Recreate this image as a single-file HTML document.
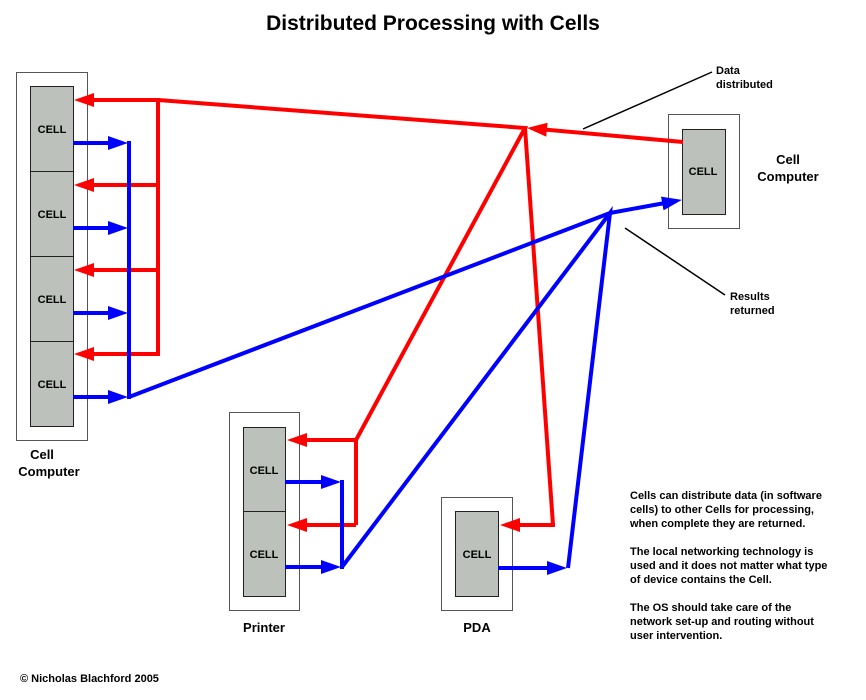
<!DOCTYPE html>
<html><head><style>
body{margin:0;background:#fff}
svg text{font-family:"Liberation Sans",Arial,sans-serif;font-weight:bold}
</style></head><body>
<svg width="866" height="695" viewBox="0 0 866 695" xmlns="http://www.w3.org/2000/svg">
<defs>
<marker id="r" markerUnits="userSpaceOnUse" markerWidth="20" markerHeight="14" viewBox="0 0 20 14" refX="14" refY="7" orient="auto"><path d="M0,0 L20,7 L0,14Z" fill="#f00"/></marker>
<marker id="b" markerUnits="userSpaceOnUse" markerWidth="20" markerHeight="14" viewBox="0 0 20 14" refX="14" refY="7" orient="auto"><path d="M0,0 L20,7 L0,14Z" fill="#00f"/></marker>
</defs>
<text x="433" y="30" text-anchor="middle" font-size="21">Distributed Processing with Cells</text>

<rect x="16.5" y="72.5" width="71" height="368" fill="#fff" stroke="#555"/>
<rect x="30.5" y="86.5" width="43" height="340" fill="#bcc2bb" stroke="#222"/>
<g stroke="#222"><line x1="30" y1="171.5" x2="74" y2="171.5"/><line x1="30" y1="256.5" x2="74" y2="256.5"/><line x1="30" y1="341.5" x2="74" y2="341.5"/></g>
<g font-size="11" text-anchor="middle"><text x="52" y="133">CELL</text><text x="52" y="218">CELL</text><text x="52" y="303">CELL</text><text x="52" y="388">CELL</text></g>
<text x="42" y="459" font-size="13" text-anchor="middle">Cell</text>
<text x="49" y="476" font-size="13" text-anchor="middle">Computer</text>

<rect x="668.5" y="114.5" width="71" height="114" fill="#fff" stroke="#555"/>
<rect x="682.5" y="129.5" width="43" height="85" fill="#bcc2bb" stroke="#222"/>
<text x="703" y="175" font-size="11" text-anchor="middle">CELL</text>
<text x="788" y="164" font-size="13" text-anchor="middle">Cell</text>
<text x="788" y="181" font-size="13" text-anchor="middle">Computer</text>

<rect x="229.5" y="412.5" width="70" height="198" fill="#fff" stroke="#555"/>
<rect x="243.5" y="427.5" width="42" height="169" fill="#bcc2bb" stroke="#222"/>
<line x1="243" y1="511.5" x2="286" y2="511.5" stroke="#222"/>
<g font-size="11" text-anchor="middle"><text x="264" y="474">CELL</text><text x="264" y="558">CELL</text></g>
<text x="264" y="632" font-size="13" text-anchor="middle">Printer</text>

<rect x="441.5" y="497.5" width="71" height="113" fill="#fff" stroke="#555"/>
<rect x="455.5" y="511.5" width="43" height="85" fill="#bcc2bb" stroke="#222"/>
<text x="477" y="558" font-size="11" text-anchor="middle">CELL</text>
<text x="477" y="632" font-size="13" text-anchor="middle">PDA</text>

<g stroke="#f00" stroke-width="4" fill="none">
<line x1="683" y1="142" x2="533" y2="128.5" marker-end="url(#r)"/>
<polyline points="158,100 525,128 356,440 356,525"/>
<polyline points="525,128 553,525"/>
<line x1="158" y1="98" x2="158" y2="356"/>
<line x1="158" y1="100" x2="80" y2="100" marker-end="url(#r)"/>
<line x1="158" y1="185" x2="80" y2="185" marker-end="url(#r)"/>
<line x1="158" y1="270" x2="80" y2="270" marker-end="url(#r)"/>
<line x1="158" y1="354" x2="80" y2="354" marker-end="url(#r)"/>
<line x1="356" y1="440" x2="293" y2="440" marker-end="url(#r)"/>
<line x1="356" y1="525" x2="293" y2="525" marker-end="url(#r)"/>
<line x1="555" y1="525" x2="506" y2="525" marker-end="url(#r)"/>
</g>

<g stroke="#00f" stroke-width="4" fill="none">
<line x1="73" y1="143" x2="122" y2="143" marker-end="url(#b)"/>
<line x1="73" y1="228" x2="122" y2="228" marker-end="url(#b)"/>
<line x1="73" y1="313" x2="122" y2="313" marker-end="url(#b)"/>
<line x1="73" y1="397" x2="122" y2="397" marker-end="url(#b)"/>
<line x1="129" y1="141" x2="129" y2="399"/>
<polyline points="129,397 610,213"/>
<line x1="610" y1="213" x2="676" y2="201" marker-end="url(#b)"/>
<line x1="285" y1="482" x2="335" y2="482" marker-end="url(#b)"/>
<line x1="285" y1="567" x2="335" y2="567" marker-end="url(#b)"/>
<line x1="342" y1="480" x2="342" y2="569"/>
<polyline points="342,567 610,213 568,568"/>
<line x1="498" y1="568" x2="561" y2="568" marker-end="url(#b)"/>
</g>

<g stroke="#000" stroke-width="1.5"><line x1="583" y1="129" x2="712" y2="72"/><line x1="625" y1="228" x2="725" y2="295"/></g>
<g font-size="11"><text x="716" y="74">Data</text><text x="716" y="88">distributed</text>
<text x="730" y="300">Results</text><text x="730" y="314">returned</text></g>

<g font-size="11">
<text x="630" y="499">Cells can distribute data (in software</text>
<text x="630" y="513">cells) to other Cells for processing,</text>
<text x="630" y="527">when complete they are returned.</text>
<text x="630" y="555">The local networking technology is</text>
<text x="630" y="569">used and it does not matter what type</text>
<text x="630" y="583">of device contains the Cell.</text>
<text x="630" y="611">The OS should take care of the</text>
<text x="630" y="625">network set-up and routing without</text>
<text x="630" y="639">user intervention.</text>
</g>
<text x="20" y="682" font-size="11">© Nicholas Blachford 2005</text>
</svg>
</body></html>
